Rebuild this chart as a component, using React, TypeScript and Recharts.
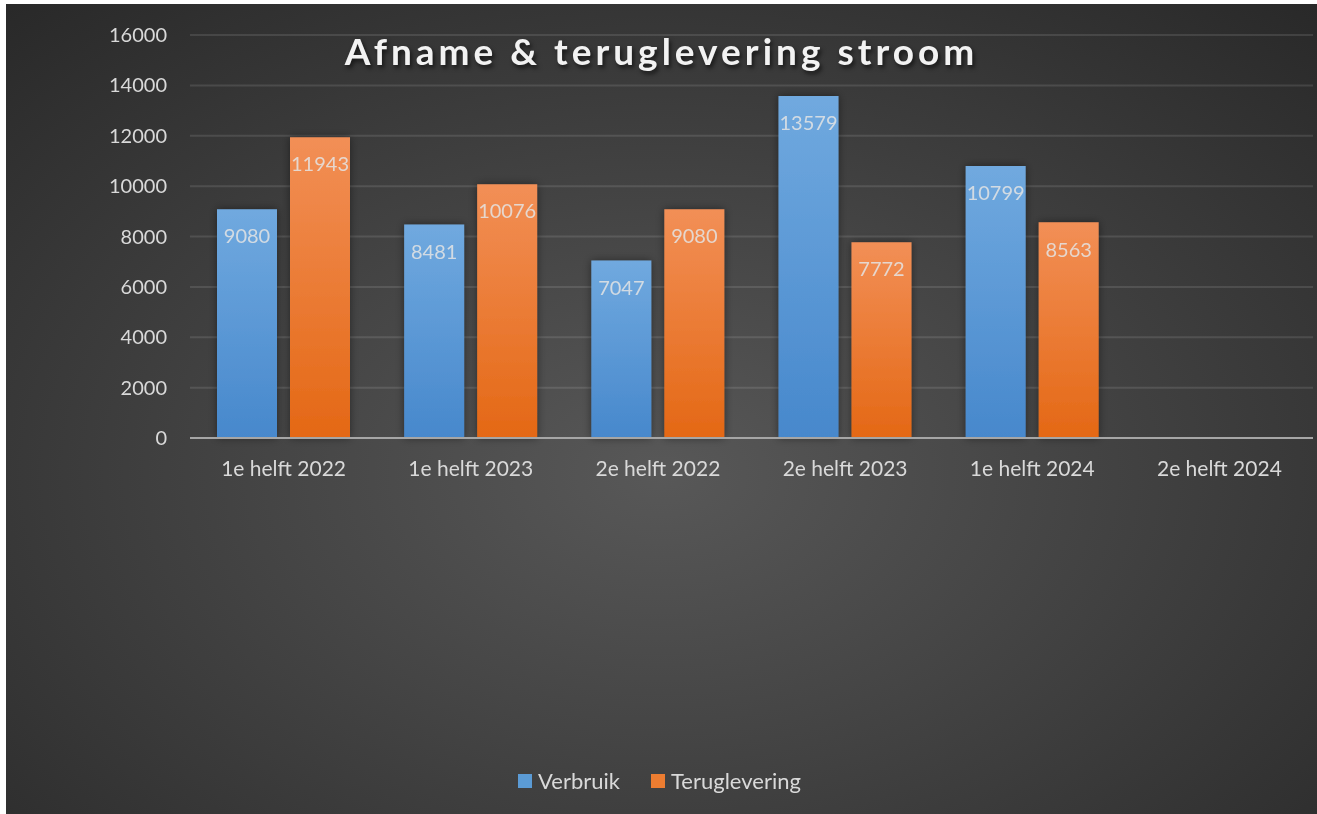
import React from 'react';
import {
  BarChart,
  Bar,
  XAxis,
  YAxis,
  CartesianGrid,
  Legend,
  LabelList,
} from 'recharts';

const FONT = 'Lato, "Open Sans", sans-serif';
const TEXT = '#d9d9d9';

const categories = [
  '1e helft 2022',
  '1e helft 2023',
  '2e helft 2022',
  '2e helft 2023',
  '1e helft 2024',
  '2e helft 2024',
];
const verbruik = [9080, 8481, 7047, 13579, 10799, null];
const teruglevering = [11943, 10076, 9080, 7772, 8563, null];
const yTicks = [0, 2000, 4000, 6000, 8000, 10000, 12000, 14000, 16000];

const seriesNames = ['Verbruik', 'Teruglevering'];
const seriesColors = ['#5b9bd5', '#ed7d31'];

const data = categories.map((name, i) => ({
  name,
  Verbruik: verbruik[i],
  Teruglevering: teruglevering[i],
}));

const W = 1311;
const H = 810;

// fixed order legend, Excel keeps series order
const renderLegend = () => (
  <div style={{ display: 'flex', justifyContent: 'center', gap: 31, fontSize: 22, fontFamily: FONT, lineHeight: '26px' }}>
    {seriesNames.map((n, i) => (
      <div key={n} style={{ display: 'flex', alignItems: 'center' }}>
        <span style={{ width: 14, height: 14, background: seriesColors[i], marginRight: 6, display: 'inline-block' }} />
        <span style={{ color: TEXT }}>{n}</span>
      </div>
    ))}
  </div>
);

export default function App() {
  return (
    <div
      style={{
        position: 'fixed',
        left: 6,
        top: 4,
        width: W,
        height: H,
        background: 'radial-gradient(ellipse 75% 80% at 50% 58%, #585858 0%, #454545 40%, #282828 100%)',
        fontFamily: FONT,
      }}
    >
      {/* title sits over the plot, like the Excel original */}
      <div
        style={{
          position: 'absolute',
          left: 0,
          width: W,
          top: 24,
          textAlign: 'center',
          fontSize: 37,
          fontWeight: 700,
          letterSpacing: 4,
          color: '#f2f2f2',
          textShadow: '2px 3px 4px rgba(0,0,0,0.6)',
          zIndex: 2,
          pointerEvents: 'none',
        }}
      >
        Afname &amp; teruglevering stroom
      </div>
      <BarChart
        width={W}
        height={H}
        data={data}
        margin={{ top: 31, right: 4, bottom: 20, left: 0 }}
        barSize={60}
        barGap={13}
      >
        <defs>
          <linearGradient id="gradBlue" x1="0" y1="0" x2="0" y2="1">
            <stop offset="0%" stopColor="#70a9df" />
            <stop offset="100%" stopColor="#4788cc" />
          </linearGradient>
          <linearGradient id="gradOrange" x1="0" y1="0" x2="0" y2="1">
            <stop offset="0%" stopColor="#f28f56" />
            <stop offset="100%" stopColor="#e46815" />
          </linearGradient>
          <filter id="barShadow" x="-30%" y="-10%" width="160%" height="120%">
            <feDropShadow dx="0" dy="0" stdDeviation="4" floodColor="#000" floodOpacity="0.45" />
          </filter>
        </defs>
        <CartesianGrid
          vertical={false}
          stroke="rgba(255,255,255,0.11)"
          strokeWidth={2}
        />
        <XAxis
          dataKey="name"
          height={330}
          tickLine={false}
          axisLine={{ stroke: '#a6a6a6', strokeWidth: 2 }}
          tickMargin={17}
          interval={0}
          tick={{ fill: TEXT, fontSize: 21, fontFamily: FONT }}
        />
        <YAxis
          width={184}
          domain={[0, 16000]}
          ticks={yTicks}
          tickLine={false}
          axisLine={false}
          tickMargin={17}
          tick={{ fill: TEXT, fontSize: 20, fontFamily: FONT }}
        />
        <Legend verticalAlign="bottom" align="center" content={renderLegend} />
        <Bar
          dataKey="Verbruik"
          fill="url(#gradBlue)"
          filter="url(#barShadow)"
          isAnimationActive={false}
        >
          <LabelList
            dataKey="Verbruik"
            position="insideTop"
            offset={20}
            fill="rgba(228,228,228,0.85)"
            fontSize={20}
            fontFamily={FONT}
          />
        </Bar>
        <Bar
          dataKey="Teruglevering"
          fill="url(#gradOrange)"
          filter="url(#barShadow)"
          isAnimationActive={false}
        >
          <LabelList
            dataKey="Teruglevering"
            position="insideTop"
            offset={20}
            fill="rgba(228,228,228,0.85)"
            fontSize={20}
            fontFamily={FONT}
          />
        </Bar>
      </BarChart>
    </div>
  );
}
